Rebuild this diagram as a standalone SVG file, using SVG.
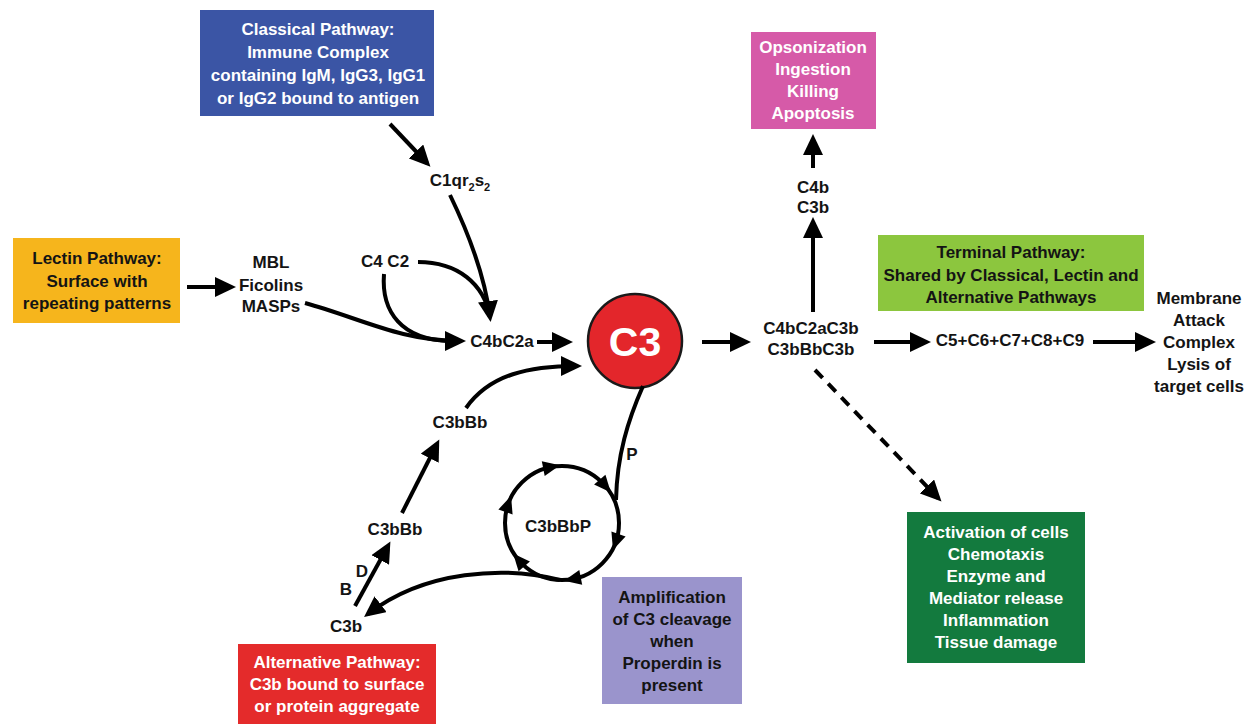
<svg xmlns="http://www.w3.org/2000/svg" width="1247" height="724" viewBox="0 0 1247 724">
  <style>
    text { font-family: "Liberation Sans", Arial, sans-serif; font-weight: bold; font-size: 17px; text-anchor: middle; }
    .dark { fill: #141414; }
    .light { fill: #ffffff; }
    .wire { fill: none; stroke: #000; stroke-width: 4; }
    .dash { stroke-dasharray: 11 8; }
  </style>
  <defs>
    <marker id="arrow" markerUnits="userSpaceOnUse" markerWidth="22" markerHeight="20" refX="16" refY="10" orient="auto">
      <path d="M0,0 L21,10 L0,20 Z" fill="#000"/>
    </marker>
    <path id="tip" d="M-8,-7.5 L9,0 L-8,7.5 Z" fill="#000"/>
  </defs>

  <rect width="1247" height="724" fill="#fff"/>

  <!-- entry boxes -->
  <g id="classical">
    <rect x="200" y="10" width="234" height="106" fill="#3b55a5"/>
    <text class="light" x="318" y="35">Classical Pathway:</text>
    <text class="light" x="318" y="58">Immune Complex</text>
    <text class="light" x="318" y="81">containing IgM, IgG3, IgG1</text>
    <text class="light" x="318" y="104">or IgG2 bound to antigen</text>
  </g>
  <g id="lectin">
    <rect x="13" y="238" width="167" height="85" fill="#f6b51c"/>
    <text class="dark" x="97" y="264">Lectin Pathway:</text>
    <text class="dark" x="97" y="287">Surface with</text>
    <text class="dark" x="97" y="309">repeating patterns</text>
  </g>
  <g id="alternative">
    <rect x="238" y="644" width="198" height="80" fill="#e42b2b"/>
    <text class="light" x="337" y="668">Alternative Pathway:</text>
    <text class="light" x="337" y="690">C3b bound to surface</text>
    <text class="light" x="337" y="712">or protein aggregate</text>
  </g>
  <g id="amplification">
    <rect x="602" y="577" width="140" height="127" fill="#9a94cc"/>
    <text class="dark" x="672" y="603">Amplification</text>
    <text class="dark" x="672" y="625">of C3 cleavage</text>
    <text class="dark" x="672" y="647">when</text>
    <text class="dark" x="672" y="669">Properdin is</text>
    <text class="dark" x="672" y="691">present</text>
  </g>
  <g id="opsonization">
    <rect x="751" y="32" width="125" height="97" fill="#d65aa8"/>
    <text class="light" x="813" y="53">Opsonization</text>
    <text class="light" x="813" y="75">Ingestion</text>
    <text class="light" x="813" y="97">Killing</text>
    <text class="light" x="813" y="119">Apoptosis</text>
  </g>
  <g id="terminal">
    <rect x="878" y="235" width="266" height="76" fill="#8cc63e"/>
    <text class="dark" x="1011" y="258">Terminal Pathway:</text>
    <text class="dark" x="1011" y="281">Shared by Classical, Lectin and</text>
    <text class="dark" x="1011" y="303">Alternative Pathways</text>
  </g>
  <g id="activation">
    <rect x="907" y="512" width="178" height="151" fill="#137a3e"/>
    <text class="light" x="996" y="538">Activation of cells</text>
    <text class="light" x="996" y="560">Chemotaxis</text>
    <text class="light" x="996" y="582">Enzyme and</text>
    <text class="light" x="996" y="604">Mediator release</text>
    <text class="light" x="996" y="626">Inflammation</text>
    <text class="light" x="996" y="648">Tissue damage</text>
  </g>

  <!-- complement components -->
  <g id="c1">
    <text class="dark" x="460" y="186">C1qr<tspan font-size="11" dy="5">2</tspan><tspan dy="-5">s</tspan><tspan font-size="11" dy="5">2</tspan></text>
  </g>
  <g id="mbl">
    <text class="dark" x="271" y="268">MBL</text>
    <text class="dark" x="271" y="291">Ficolins</text>
    <text class="dark" x="271" y="312">MASPs</text>
  </g>
  <g id="c4c2"><text class="dark" x="385" y="267">C4 C2</text></g>
  <g id="c4bc2a"><text class="dark" x="502" y="347">C4bC2a</text></g>
  <g id="c3">
    <circle cx="635" cy="341" r="47" fill="#e3262b" stroke="#1a1a1a" stroke-width="2.5"/>
    <text class="light" x="635" y="356" style="font-size:41px">C3</text>
  </g>
  <g id="c3bbb-upper"><text class="dark" x="460" y="428">C3bBb</text></g>
  <g id="c3bbb-lower"><text class="dark" x="395" y="535">C3bBb</text></g>
  <g id="c3b"><text class="dark" x="346" y="632">C3b</text></g>
  <g id="factor-b"><text class="dark" x="346" y="595">B</text></g>
  <g id="factor-d"><text class="dark" x="362" y="577">D</text></g>
  <g id="properdin"><text class="dark" x="632" y="460">P</text></g>
  <g id="c3bbbp">
    <circle cx="562" cy="523" r="57" fill="none" stroke="#000" stroke-width="4"/>
    <text class="dark" x="558" y="532">C3bBbP</text>
  </g>
  <g id="convertases">
    <text class="dark" x="811" y="334">C4bC2aC3b</text>
    <text class="dark" x="811" y="355">C3bBbC3b</text>
  </g>
  <g id="c4b-c3b">
    <text class="dark" x="813" y="193">C4b</text>
    <text class="dark" x="813" y="213">C3b</text>
  </g>
  <g id="c5-c9"><text class="dark" x="1010" y="346">C5+C6+C7+C8+C9</text></g>
  <g id="mac">
    <text class="dark" x="1199" y="304">Membrane</text>
    <text class="dark" x="1199" y="326">Attack</text>
    <text class="dark" x="1199" y="348">Complex</text>
    <text class="dark" x="1199" y="370">Lysis of</text>
    <text class="dark" x="1199" y="392">target cells</text>
  </g>

  <!-- connectors -->
  <g id="connectors">
    <path class="wire" d="M390,124 L427,163" marker-end="url(#arrow)"/>
    <path class="wire" d="M187,287 L231,287" marker-end="url(#arrow)"/>
    <path class="wire" d="M450,195 C466,228 484,270 490,317" marker-end="url(#arrow)"/>
    <path class="wire" d="M418,262 C458,262 484,284 490,317"/>
    <path class="wire" d="M305,303 C360,318 400,341 461,341" marker-end="url(#arrow)"/>
    <path class="wire" d="M384,274 C381,312 402,340 450,341"/>
    <path class="wire" d="M537,342 L568,342" marker-end="url(#arrow)"/>
    <path class="wire" d="M466,408 C490,374 530,366 577,366" marker-end="url(#arrow)"/>
    <path class="wire" d="M402,513 L437,444" marker-end="url(#arrow)"/>
    <path class="wire" d="M355,606 L388,546" marker-end="url(#arrow)"/>
    <path class="wire" d="M560,580 C505,566 425,570 368,614" marker-end="url(#arrow)"/>
    <path class="wire" d="M643,386 C628,420 617,455 616,500"/>
    <path class="wire" d="M702,342 L746,342" marker-end="url(#arrow)"/>
    <path class="wire" d="M813,312 L813,222" marker-end="url(#arrow)"/>
    <path class="wire" d="M813,168 L813,139" marker-end="url(#arrow)"/>
    <path class="wire" d="M874,342 L926,342" marker-end="url(#arrow)"/>
    <path class="wire" d="M1093,342 L1151,342" marker-end="url(#arrow)"/>
    <path class="wire dash" d="M815,370 L938,498" marker-end="url(#arrow)"/>
    <!-- cycle arrowheads around the properdin-stabilised convertase -->
    <use href="#tip" transform="translate(551.1,467) rotate(-11)"/>
    <use href="#tip" transform="translate(605,485.6) rotate(49)"/>
    <use href="#tip" transform="translate(615.9,541.6) rotate(109)"/>
    <use href="#tip" transform="translate(572.9,579) rotate(169)"/>
    <use href="#tip" transform="translate(519,560.4) rotate(229)"/>
    <use href="#tip" transform="translate(508.1,504.4) rotate(289)"/>
  </g>
</svg>
